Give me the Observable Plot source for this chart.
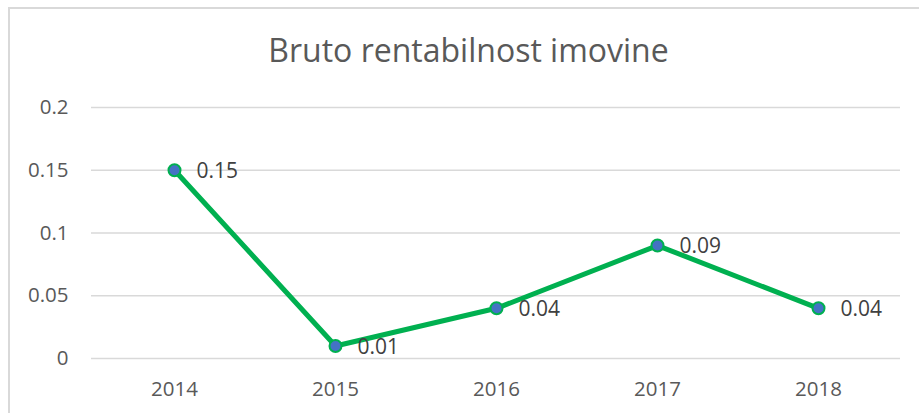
<!DOCTYPE html>
<html>
<head>
<meta charset="utf-8">
<script src="https://cdn.jsdelivr.net/npm/d3@7"></script>
<script src="https://cdn.jsdelivr.net/npm/@observablehq/plot@0.6"></script>
<style>
  html, body { margin: 0; padding: 0; background: #fff; }
  #wrap { position: relative; width: 919px; height: 413px; overflow: hidden; }
  #frame { position: absolute; left: 8px; top: 7px; width: 930px; height: 430px; border: 2px solid #d9d9d9; box-sizing: border-box; }
  #chart { position: absolute; left: 0; top: 0; }
</style>
</head>
<body>
<div id="wrap"><div id="frame"></div><div id="chart"></div></div>
<script>
const title = "Bruto rentabilnost imovine";
const years = ["2014", "2015", "2016", "2017", "2018"];
const values = [0.15, 0.01, 0.04, 0.09, 0.04];
const yTicks = [0, 0.05, 0.1, 0.15, 0.2];

const data = years.map((y, i) => ({year: y, value: values[i]}));

const chart = Plot.plot({
  width: 919,
  height: 413,
  marginLeft: 91,
  marginRight: 19,
  marginTop: 107,
  marginBottom: 55,
  style: {fontFamily: "'Open Sans', Calibri, sans-serif", background: "transparent"},
  x: {type: "point", domain: years, padding: 0.5, axis: null},
  y: {domain: [0, 0.2], axis: null},
  marks: [
    Plot.gridY(yTicks, {stroke: "#d9d9d9", strokeOpacity: 1, strokeWidth: 1.5}),
    Plot.text(yTicks, {y: d => d, text: d => String(d), frameAnchor: "left", textAnchor: "end", dx: -23, fontSize: 20.5, fill: "#595959"}),
    Plot.text(years, {x: d => d, text: d => d, frameAnchor: "bottom", lineAnchor: "middle", dy: 31, fontSize: 20.5, fill: "#595959"}),
    Plot.line(data, {x: "year", y: "value", stroke: "#00b050", strokeWidth: 5}),
    Plot.dot(data, {x: "year", y: "value", r: 6, fill: "#4472c4", stroke: "#00b050", strokeWidth: 2}),
    Plot.text(data, {x: "year", y: "value", text: d => String(d.value), textAnchor: "start", dx: 22, dy: 1, fontSize: 21, fill: "#404040"}),
    Plot.text([title], {frameAnchor: "top-left", dx: 468 - 91, dy: -56, lineAnchor: "middle", textAnchor: "middle", fontSize: 32, fill: "#595959"})
  ]
});
document.getElementById("chart").appendChild(chart);
</script>
</body>
</html>
